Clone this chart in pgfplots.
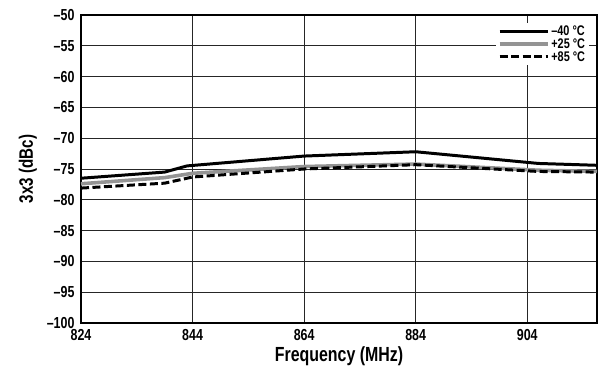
\documentclass[border=0pt]{standalone}
\usepackage{pgfplots}
\pgfplotsset{compat=1.18}
\usepackage{fontspec}
\setmainfont{Liberation Sans}[FakeStretch=0.78]
\begin{document}
\begin{tikzpicture}
\begin{axis}[
  scale only axis,
  width=516bp, height=308bp,
  xmin=824, xmax=916.5,
  ymin=-100, ymax=-50,
  xtick={824,844,864,884,904},
  ytick={-100,-95,-90,-85,-80,-75,-70,-65,-60,-55,-50},
  yticklabels={--100,--95,--90,--85,--80,--75,--70,--65,--60,--55,--50},
  /pgf/number format/assume math mode=true,
  xticklabel style={font=\bfseries\fontsize{16}{17}\selectfont, yshift=-3bp},
  yticklabel style={font=\bfseries\fontsize{16}{17}\selectfont, xshift=-3bp},
  major tick length=0pt,
  grid=major,
  major grid style={black!85, line width=0.8pt},
  axis line style={line width=1.6pt},
  xlabel={Frequency (MHz)},
  ylabel={3x3 (dBc)},
  xlabel style={font=\bfseries\fontsize{20.5}{21}\selectfont, yshift=1bp},
  ylabel style={font=\bfseries\fontsize{19.5}{21}\selectfont, yshift=3bp},
  legend style={at={(rel axis cs:0.985,0.975)}, anchor=north east, draw=none, fill=white,
    font=\bfseries\fontsize{14}{14}\selectfont, row sep=0.5bp, inner sep=2bp,
    nodes={inner ysep=0.6bp}},
  legend cell align=left,
  legend image code/.code={\draw[#1] (0bp,0bp) -- (48bp,0bp);},
]
\addplot[black, line width=3pt] coordinates {
 (824,-76.5) (839,-75.5) (843,-74.5) (864,-72.9) (884,-72.2) (906,-74.1) (916.5,-74.4)};
\addlegendentry{--40 °C}
\addplot[black!42, line width=3.6pt] coordinates {
 (824,-77.4) (839,-76.4) (844,-75.7) (864,-74.6) (884,-74.2) (906,-75.2) (916.5,-75.4)};
\addlegendentry{+25 °C}
\addplot[black, line width=3pt, dash pattern=on 8bp off 3.5bp] coordinates {
 (824,-78.1) (839,-77.3) (844,-76.3) (864,-75.0) (884,-74.3) (906,-75.4) (916.5,-75.5)};
\addlegendentry{+85 °C}
\path (rel axis cs:0,0) ++(-81bp,-52bp) coordinate (bl);
\path (rel axis cs:1,1) ++(8bp,15bp) coordinate (tr);
\end{axis}
\useasboundingbox (bl) rectangle (tr);
\end{tikzpicture}
\end{document}
